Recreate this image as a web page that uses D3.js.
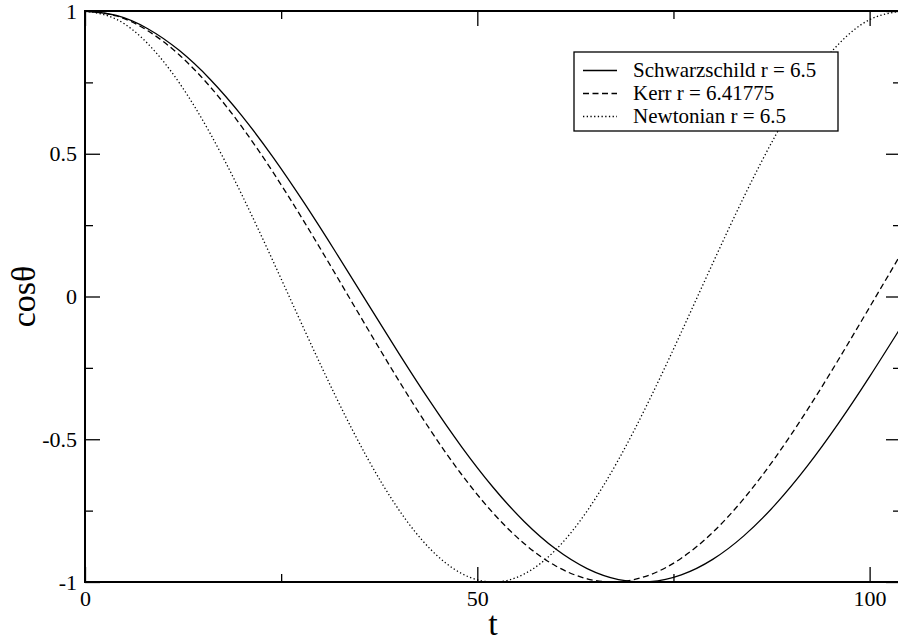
<!DOCTYPE html>
<html>
<head>
<meta charset="utf-8">
<script src="https://cdn.jsdelivr.net/npm/d3@7"></script>
<style>
  html, body { margin: 0; padding: 0; background: #fff; }
  svg { display: block; }
  svg text { font-family: "Liberation Serif", "Tinos", "Times New Roman", Times, serif; fill: #000; }
</style>
</head>
<body>
<svg id="chart" width="898" height="641"></svg>
<script>
// ---- data ----
const tValues = [0, 4, 8, 12, 16, 20, 24, 28, 32, 36, 40, 44, 48, 52, 56, 60, 64, 68, 72, 76, 80, 84, 88, 92, 96, 100, 104];
const schwarzschild = [1, 0.9844, 0.9379, 0.8621, 0.7594, 0.6328, 0.4865, 0.3250, 0.1533, -0.0232, -0.1990, -0.3686, -0.5266, -0.6681, -0.7888, -0.8847, -0.9530, -0.9915, -0.9989, -0.9751, -0.9208, -0.8376, -0.7283, -0.5962, -0.4454, -0.2807, -0.1072];
const kerr = [1, 0.9826, 0.9309, 0.8467, 0.7331, 0.5938, 0.4339, 0.2588, 0.0747, -0.1120, -0.2948, -0.4673, -0.6235, -0.7580, -0.8660, -0.9439, -0.9888, -0.9993, -0.9749, -0.9166, -0.8262, -0.7071, -0.5633, -0.3999, -0.2225, -0.0374, 0.1491];
const newtonian = [1, 0.9710, 0.8857, 0.7490, 0.5688, 0.3557, 0.1219, -0.1189, -0.3529, -0.5663, -0.7470, -0.8843, -0.9703, -1.0000, -0.9717, -0.8871, -0.7510, -0.5713, -0.3585, -0.1249, 0.1159, 0.3500, 0.5638, 0.7449, 0.8828, 0.9695, 1.0000];

const seriesNames = ["Schwarzschild r = 6.5", "Kerr r = 6.41775", "Newtonian r = 6.5"];
const xMajorTicks = [0, 50, 100];
const xMinorTicks = [25, 75];
const xTickLabels = ["0", "50", "100"];
const yMajorTicks = [-1, -0.5, 0, 0.5, 1];
const yMinorTicks = [-0.75, -0.25, 0.25, 0.75];
const yTickLabels = ["-1", "-0.5", "0", "0.5", "1"];
const xTitle = "t";
const yTitle = "cosθ";

// ---- layout ----
const L = 85, R = 901, T = 11, B = 582;
const FONT = '"Liberation Serif", "Tinos", "Times New Roman", Times, serif';
const svg = d3.select("#chart");
const x = d3.scaleLinear().domain([0, 104]).range([L, R]);
const y = d3.scaleLinear().domain([-1, 1]).range([B, T]);

const dashes = ["none", "6,3.5", "1.3,2.4"];
const seriesData = [schwarzschild, kerr, newtonian];

svg.append("clipPath").attr("id", "clip")
  .append("rect").attr("x", L).attr("y", T - 1).attr("width", R - L).attr("height", B - T + 2);

const line = d3.line().x(d => x(d[0])).y(d => y(d[1])).curve(d3.curveNatural);
const gCurves = svg.append("g").attr("clip-path", "url(#clip)");
seriesData.forEach((vals, i) => {
  gCurves.append("path")
    .datum(tValues.map((t, k) => [t, vals[k]]))
    .attr("d", line)
    .attr("fill", "none")
    .attr("stroke", "#000")
    .attr("stroke-width", 1.3)
    .attr("stroke-dasharray", dashes[i]);
});

// ---- axes (inward ticks) ----
function styleAxis(g) {
  g.select(".domain").remove();
  g.selectAll(".tick line").attr("stroke", "#000").attr("stroke-width", 1.3);
  g.selectAll("text").attr("font-size", 22).attr("font-family", FONT).attr("fill", "#000");
}
const xfmt = d => xTickLabels[xMajorTicks.indexOf(d)];
const yfmt = d => yTickLabels[yMajorTicks.indexOf(d)];

svg.append("g").attr("transform", `translate(0,${B})`)
  .call(d3.axisBottom(x).tickValues(xMajorTicks).tickSize(-15).tickPadding(8).tickFormat(xfmt)).call(styleAxis);
svg.append("g").attr("transform", `translate(0,${B})`)
  .call(d3.axisBottom(x).tickValues(xMinorTicks).tickSize(-8).tickFormat("")).call(styleAxis);
svg.append("g").attr("transform", `translate(0,${T})`)
  .call(d3.axisTop(x).tickValues(xMajorTicks).tickSize(-15).tickFormat("")).call(styleAxis);
svg.append("g").attr("transform", `translate(0,${T})`)
  .call(d3.axisTop(x).tickValues(xMinorTicks).tickSize(-8).tickFormat("")).call(styleAxis);

svg.append("g").attr("transform", `translate(${L},0)`)
  .call(d3.axisLeft(y).tickValues(yMajorTicks).tickSize(-15).tickPadding(8).tickFormat(yfmt)).call(styleAxis);
svg.append("g").attr("transform", `translate(${L},0)`)
  .call(d3.axisLeft(y).tickValues(yMinorTicks).tickSize(-8).tickFormat("")).call(styleAxis);
svg.append("g").attr("transform", `translate(${R},0)`)
  .call(d3.axisRight(y).tickValues(yMajorTicks).tickSize(-15).tickFormat("")).call(styleAxis);
svg.append("g").attr("transform", `translate(${R},0)`)
  .call(d3.axisRight(y).tickValues(yMinorTicks).tickSize(-8).tickFormat("")).call(styleAxis);

// frame
svg.append("rect").attr("x", L).attr("y", T).attr("width", R - L).attr("height", B - T)
  .attr("fill", "none").attr("stroke", "#000").attr("stroke-width", 2);

// titles
svg.append("text").attr("x", (L + R) / 2).attr("y", 635).attr("text-anchor", "middle")
  .attr("font-family", FONT).attr("font-size", 34).text(xTitle);
svg.append("text").attr("transform", `translate(35,${(T + B) / 2}) rotate(-90)`)
  .attr("text-anchor", "middle").attr("font-family", FONT).attr("font-size", 34).text(yTitle);

// ---- legend ----
const lg = svg.append("g");
lg.append("rect").attr("x", 574).attr("y", 52).attr("width", 264).attr("height", 79)
  .attr("fill", "#fff").attr("stroke", "#000").attr("stroke-width", 1.3);
seriesNames.forEach((name, i) => {
  const base = 76.5 + i * 23;
  lg.append("line").attr("x1", 583).attr("x2", 617).attr("y1", base - 6).attr("y2", base - 6)
    .attr("stroke", "#000").attr("stroke-width", 1.3).attr("stroke-dasharray", dashes[i]);
  lg.append("text").attr("x", 633).attr("y", base).attr("font-family", FONT)
    .attr("font-size", 21).text(name);
});
</script>
</body>
</html>
